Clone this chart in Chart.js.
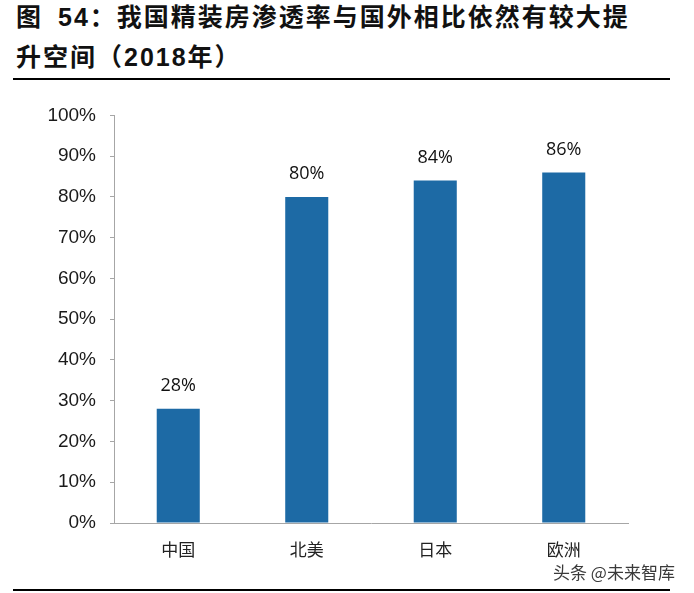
<!DOCTYPE html>
<html>
<head>
<meta charset="utf-8">
<script src="https://cdn.jsdelivr.net/npm/chart.js@4"></script>
<style>
    html, body {
        margin: 0;
        padding: 0;
        background: #ffffff;
    }
    #page {
        position: relative;
        width: 694px;
        height: 593px;
        overflow: hidden;
        background: #ffffff;
    }
    .titulo {
        position: absolute;
        left: 16px;
        top: -3px;
        font-family: "Liberation Sans", "Noto Sans CJK SC", sans-serif;
        font-weight: bold;
        font-size: 25px;
        line-height: 40px;
        letter-spacing: 2px;
        color: #111111;
        white-space: nowrap;
    }
    .hueco {
        display: inline-block;
        width: 15px;
    }
    .regla {
        position: absolute;
        left: 13px;
        width: 657px;
        height: 2px;
        background: #000000;
    }
    #chartWrap {
        position: absolute;
        left: 0;
        top: 90px;
        width: 694px;
        height: 480px;
    }
    .marca {
        position: absolute;
        left: 553px;
        top: 561px;
        font-family: "Noto Sans CJK SC", sans-serif;
        font-size: 17px;
        line-height: 22px;
        color: #3a3a3a;
        text-shadow: 0 0 2px #ffffff, 0 0 2px #ffffff;
        white-space: nowrap;
    }
</style>
</head>
<body>
<div id="page">
    <div class="titulo">图<span class="hueco"></span>54：我国精装房渗透率与国外相比依然有较大提<br>升空间（2018年）</div>
    <div class="regla" style="top: 78px;"></div>
    <div id="chartWrap"><canvas id="chartPenetracion"></canvas></div>
    <div class="marca">头条 @未来智库</div>
    <div class="regla" style="top: 589px;"></div>
</div>

<script>
// Datos del gráfico
const categorias = ['中国', '北美', '日本', '欧洲'];
const valores = [28, 80, 84, 86];
const ticksY = [0, 10, 20, 30, 40, 50, 60, 70, 80, 90, 100];

const colores = {
    barra: '#1d6aa5',
    eje: '#a6a6a6',
    texto: '#1a1a1a'
};

// Etiquetas de valor encima de cada barra
const etiquetasValor = {
    id: 'etiquetasValor',
    afterDatasetsDraw(chart) {
        const ctx = chart.ctx;
        const meta = chart.getDatasetMeta(0);
        ctx.save();
        ctx.font = '18px "Open Sans", sans-serif';
        ctx.fillStyle = '#111111';
        ctx.textAlign = 'center';
        ctx.textBaseline = 'middle';
        meta.data.forEach((bar, i) => {
            ctx.fillText(valores[i] + '%', bar.x, bar.y - 23);
        });
        ctx.restore();
    }
};

document.addEventListener('DOMContentLoaded', function () {
    const ctx = document.getElementById('chartPenetracion');
    new Chart(ctx, {
        type: 'bar',
        data: {
            labels: categorias,
            datasets: [{
                data: valores,
                backgroundColor: colores.barra,
                borderWidth: 0,
                barPercentage: 0.335,
                categoryPercentage: 1
            }]
        },
        options: {
            responsive: true,
            maintainAspectRatio: false,
            animation: false,
            layout: {
                padding: { left: 0, top: 23, right: 66, bottom: 0 }
            },
            plugins: {
                legend: { display: false },
                tooltip: { enabled: false }
            },
            scales: {
                y: {
                    min: 0,
                    max: 100,
                    afterFit: function (scale) { scale.width = 114; },
                    afterBuildTicks: function (scale) {
                        scale.ticks = ticksY.map(v => ({ value: v }));
                    },
                    ticks: {
                        padding: 14,
                        color: colores.texto,
                        font: { family: '"Liberation Sans", Arial, sans-serif', size: 19 },
                        callback: function (value) { return value + '%'; }
                    },
                    grid: {
                        drawOnChartArea: false,
                        drawTicks: true,
                        tickLength: 4,
                        color: colores.eje
                    },
                    border: { display: true, color: colores.eje, width: 1 }
                },
                x: {
                    afterFit: function (scale) { scale.height = 47; },
                    ticks: {
                        padding: 16,
                        color: '#222222',
                        font: { family: '"Noto Sans CJK SC", sans-serif', size: 17 }
                    },
                    grid: { display: false, drawTicks: false },
                    border: { display: true, color: colores.eje, width: 1 }
                }
            }
        },
        plugins: [etiquetasValor]
    });
});
</script>
</body>
</html>
